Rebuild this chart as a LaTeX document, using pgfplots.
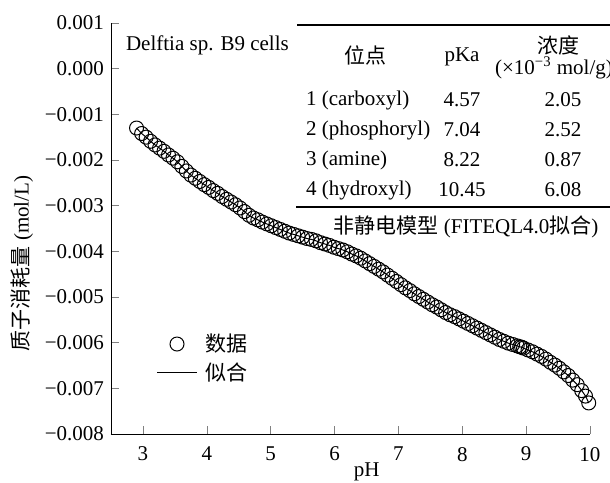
\documentclass[border=0pt]{standalone}
\usepackage{pgfplots}
\usepackage{pgfplotstable}
\pgfplotsset{compat=1.18}
\usepackage{fontspec}
\setmainfont{Liberation Serif}
\newfontfamily\cjk{Noto Sans CJK SC}

\pgfplotstableread{
x y
2.90 -0.00130
2.98 -0.00142
3.05 -0.00150
3.12 -0.00159
3.19 -0.00167
3.26 -0.00174
3.33 -0.00181
3.40 -0.00189
3.47 -0.00196
3.54 -0.00204
3.61 -0.00214
3.68 -0.00224
3.75 -0.00233
3.82 -0.00240
3.89 -0.00247
3.96 -0.00254
4.03 -0.00260
4.10 -0.00267
4.17 -0.00273
4.24 -0.00280
4.31 -0.00286
4.38 -0.00292
4.45 -0.00298
4.52 -0.00305
4.59 -0.00313
4.66 -0.00321
4.73 -0.00327
4.80 -0.00331
4.87 -0.00336
4.94 -0.00340
5.01 -0.00344
5.08 -0.00348
5.15 -0.00352
5.22 -0.00356
5.29 -0.00360
5.36 -0.00363
5.43 -0.00366
5.50 -0.00369
5.57 -0.00372
5.64 -0.00374
5.71 -0.00377
5.78 -0.00381
5.85 -0.00384
5.92 -0.00387
5.99 -0.00391
6.06 -0.00394
6.13 -0.00397
6.20 -0.00401
6.27 -0.00406
6.34 -0.00410
6.41 -0.00415
6.48 -0.00421
6.55 -0.00427
6.62 -0.00433
6.69 -0.00439
6.76 -0.00445
6.83 -0.00452
6.90 -0.00459
6.97 -0.00466
7.04 -0.00473
7.11 -0.00480
7.18 -0.00486
7.25 -0.00493
7.32 -0.00499
7.39 -0.00505
7.46 -0.00511
7.53 -0.00517
7.60 -0.00522
7.67 -0.00528
7.74 -0.00534
7.81 -0.00539
7.88 -0.00543
7.95 -0.00548
8.02 -0.00553
8.09 -0.00558
8.16 -0.00563
8.23 -0.00568
8.30 -0.00573
8.37 -0.00578
8.44 -0.00583
8.51 -0.00588
8.58 -0.00593
8.65 -0.00597
8.72 -0.00601
8.79 -0.00604
8.86 -0.00607
8.90 -0.00609
8.93 -0.00610
8.96 -0.00612
9.03 -0.00616
9.10 -0.00620
9.17 -0.00625
9.24 -0.00630
9.31 -0.00636
9.38 -0.00643
9.45 -0.00649
9.52 -0.00656
9.59 -0.00664
9.66 -0.00672
9.73 -0.00682
9.80 -0.00692
9.87 -0.00705
9.93 -0.00717
9.98 -0.00732
}\datatable

\begin{document}
\begin{tikzpicture}[font=\fontsize{10.5}{12}\selectfont]
\begin{axis}[
    scale only axis,
    width=239.5pt, height=205.5pt,
    xmin=2.5, xmax=10,
    ymin=-0.008, ymax=0.001,
    axis x line*=bottom,
    axis y line*=left,
    tick align=inside,
    major tick length=4pt,
    xtick={3,4,...,10},
    ytick={-0.008,-0.007,-0.006,-0.005,-0.004,-0.003,-0.002,-0.001,0,0.001},
    yticklabels={−0.008,−0.007,−0.006,−0.005,−0.004,−0.003,−0.002,−0.001,0.000,0.001},
    scaled y ticks=false,
    /pgf/number format/assume math mode=true,
    xticklabel style={yshift=-3pt},
    xlabel={pH},
    xlabel style={at={(rel axis cs:0.534,0)}, anchor=center, yshift=-19pt},
    ylabel={{\cjk 质子消耗量} (mol/L)},
    ylabel style={at={(rel axis cs:-0.1858,0.415)}, anchor=center},
    clip=false,
    legend style={at={(rel axis cs:0.09,0.184)}, anchor=west, draw=none, fill=none,
      font=\fontsize{10.5}{12}\selectfont, row sep=0pt, inner sep=1pt,
      /tikz/every odd column/.append style={column sep=2pt}},
    legend cell align=left,
  ]
  \addplot[black, line width=0.5pt, smooth, forget plot] table[x=x,y=y] {\datatable};
  \addplot[only marks, mark=o, mark size=3.5pt, mark options={black, line width=0.5pt},
    legend image code/.code={\draw[black, line width=0.5pt] plot[mark=o, mark size=3.5pt] coordinates {(10pt,0pt)};}]
    table[x=x,y=y] {\datatable};
  \addlegendentry{\cjk 数据}
  \addlegendimage{legend image code/.code={\draw[black, line width=0.5pt] (0pt,0pt) -- (20pt,0pt);}}
  \addlegendentry{\cjk 似合}
\end{axis}
% table inset
\draw[line width=0.8pt] (93pt,204.5pt) -- (260pt,204.5pt);
\draw[line width=0.8pt] (92.5pt,113.5pt) -- (260pt,113.5pt);
\node at (127pt,189.5pt) {\cjk 位点};
\node at (175.5pt,188.5pt) {pKa};
\node at (223.5pt,194.5pt) {\cjk 浓度};
\node at (221.5pt,183pt) {(×10\textsuperscript{−3} mol/g)};
\node[anchor=west] at (94pt,167pt) {1 (carboxyl)};
\node[anchor=west] at (94pt,152pt) {2 (phosphoryl)};
\node[anchor=west] at (94pt,137pt) {3 (amine)};
\node[anchor=west] at (94pt,122pt) {4 (hydroxyl)};
\node at (175.5pt,167pt) {4.57};
\node at (175.5pt,152pt) {7.04};
\node at (175.5pt,137pt) {8.22};
\node at (175.5pt,122pt) {10.45};
\node at (226pt,167pt) {2.05};
\node at (226pt,152pt) {2.52};
\node at (226pt,137pt) {0.87};
\node at (226pt,122pt) {6.08};
\node at (177.5pt,103.5pt) {{\cjk 非静电模型} (FITEQL4.0{\cjk 拟合})};
\node[anchor=west] at (4pt,194.5pt) {Delftia sp. B9 cells};
\pgfresetboundingbox
\path[use as bounding box] (-55.5pt,-24pt) rectangle (249.5pt,217pt);
\end{tikzpicture}
\end{document}
